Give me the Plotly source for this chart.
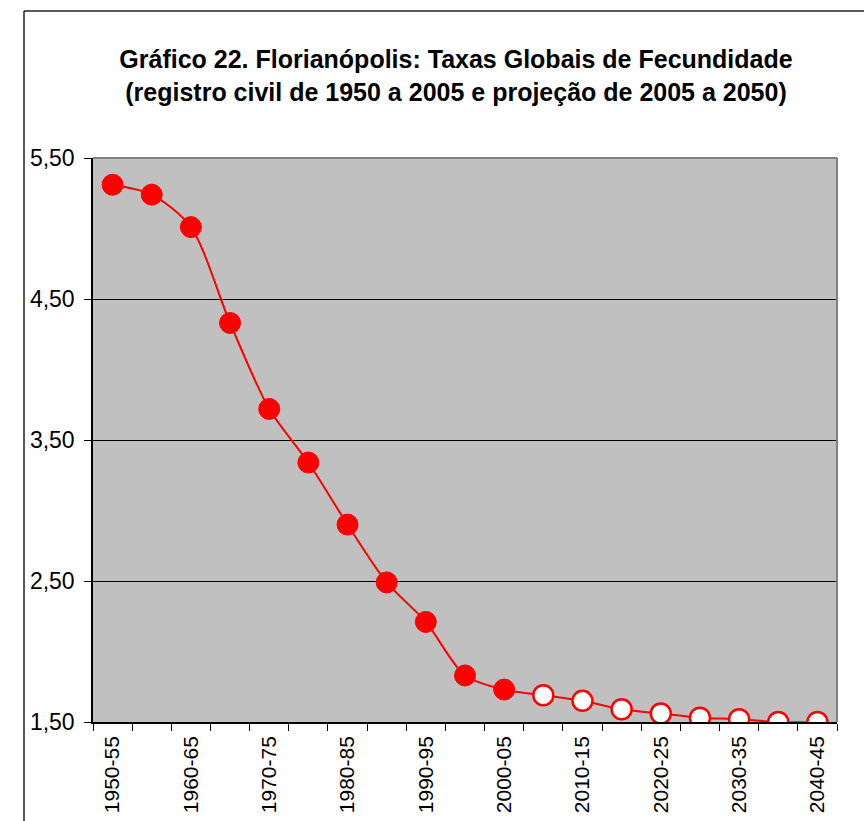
import plotly.graph_objects as go

periods = ["1950-55", "1955-60", "1960-65", "1965-70", "1970-75", "1975-80",
           "1980-85", "1985-90", "1990-95", "1995-00", "2000-05", "2005-10",
           "2010-15", "2015-20", "2020-25", "2025-30", "2030-35", "2035-40",
           "2040-45"]
registro = [5.31, 5.24, 5.01, 4.33, 3.72, 3.34, 2.90, 2.49, 2.21, 1.83, 1.73]
projecao = [1.69, 1.65, 1.59, 1.56, 1.53, 1.52, 1.50, 1.50]
y_ticks = [1.5, 2.5, 3.5, 4.5, 5.5]

values = registro + projecao
idx = list(range(len(periods)))
idx_reg = idx[:len(registro)]
idx_proj = idx[len(registro):]

RED = "#FF0000"
fig = go.Figure()
fig.add_trace(go.Scatter(x=idx, y=values, mode="lines",
                         line=dict(color=RED, width=2, shape="spline", smoothing=0.8),
                         hoverinfo="skip", showlegend=False))
fig.add_trace(go.Scatter(x=idx_reg, y=registro, mode="markers",
                         marker=dict(color=RED, size=21, line=dict(color=RED, width=1)),
                         showlegend=False))
fig.add_trace(go.Scatter(x=idx_proj, y=projecao, mode="markers",
                         marker=dict(color="white", size=20, line=dict(color=RED, width=2.5)),
                         showlegend=False))

FONT = "Liberation Sans, Arial, sans-serif"
W, H = 864, 821
L, R, T, B = 93, 27, 158, 99
pw, ph = W - L - R, H - T - B

fig.update_layout(
    width=W, height=H,
    margin=dict(l=L, r=R, t=T, b=B, autoexpand=False),
    paper_bgcolor="white",
    plot_bgcolor="#C0C0C0",
    separators=",.",
    font=dict(family=FONT, color="black"),
    title=dict(
        text="<b>Gráfico 22. Florianópolis: Taxas Globais de Fecundidade<br>(registro civil de 1950 a 2005 e projeção de 2005 a 2050)</b>",
        font=dict(family=FONT, size=25, color="black"),
        xref="container", x=456 / W, xanchor="center",
        yref="container", y=1 - 68 / H, yanchor="top",
    ),
    xaxis=dict(
        range=[-0.5, len(periods) - 0.5],
        tickmode="array",
        tickvals=idx[::2],
        ticktext=periods[::2],
        tickangle=-90,
        ticks="outside", ticklen=4, tickcolor="rgba(0,0,0,0)",
        tickfont=dict(family=FONT, size=21, color="black"),
        showgrid=False, zeroline=False, automargin=False,
        showline=True, linecolor="black", linewidth=1.5,
        minor=dict(tickmode="array",
                   tickvals=[i - 0.5 for i in idx] + [len(periods) - 0.5],
                   ticks="outside", ticklen=7, tickcolor="black", tickwidth=1,
                   showgrid=False),
        fixedrange=True,
    ),
    yaxis=dict(
        range=[y_ticks[0], y_ticks[-1]],
        tickmode="array",
        tickvals=y_ticks,
        tickformat=".2f",
        ticks="outside", ticklen=7, tickcolor="black", tickwidth=1,
        ticklabelstandoff=5,
        tickfont=dict(family=FONT, size=23, color="black"),
        showgrid=True, gridcolor="black", gridwidth=1,
        zeroline=False, automargin=False,
        showline=True, linecolor="black", linewidth=1.5,
        fixedrange=True,
    ),
    shapes=[
        dict(type="line", xref="paper", yref="paper", x0=0, x1=1, y0=1, y1=1,
             line=dict(color="#808080", width=2)),
        dict(type="line", xref="paper", yref="paper", x0=1, x1=1, y0=0, y1=1,
             line=dict(color="#808080", width=2)),
        dict(type="line", xref="paper", yref="paper",
             x0=(24 - L) / pw, x1=(24 - L) / pw, y0=(H - B - 11) / ph, y1=-B / ph - 0.1,
             line=dict(color="#222222", width=1.5)),
        dict(type="line", xref="paper", yref="paper",
             x0=(24 - L) / pw, x1=1 + R / pw + 0.1, y0=(H - B - 11) / ph, y1=(H - B - 11) / ph,
             line=dict(color="#222222", width=1.5)),
    ],
)

fig.write_html("out.html")
